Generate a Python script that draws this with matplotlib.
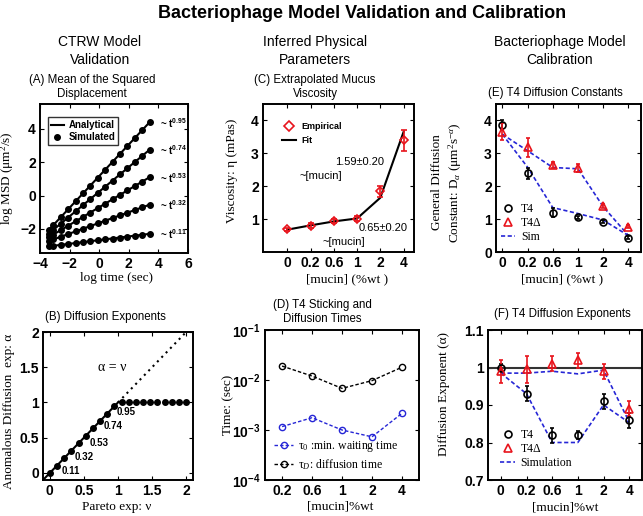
import matplotlib
matplotlib.use("Agg")
import matplotlib.pyplot as plt
from matplotlib import font_manager
from matplotlib.lines import Line2D

# ---------------- data ----------------
# Panel A
logt_sim = [-3.4, -3.1, -2.6, -2.1, -1.6, -1.1, -0.6, -0.1, 0.4, 0.9, 1.4, 1.9, 2.4, 2.9, 3.4]
msd_095 = [-2.06, -1.78, -1.30, -0.83, -0.35, 0.13, 0.60, 1.08, 1.55, 2.03, 2.50, 2.98, 3.45, 3.93, 4.40]
msd_074 = [-2.28, -2.06, -1.69, -1.32, -0.95, -0.58, -0.21, 0.16, 0.53, 0.90, 1.27, 1.64, 2.01, 2.38, 2.75]
msd_053 = [-2.50, -2.34, -2.08, -1.81, -1.55, -1.28, -1.02, -0.75, -0.49, -0.22, 0.04, 0.31, 0.57, 0.84, 1.10]
msd_032 = [-2.73, -2.63, -2.47, -2.31, -2.15, -1.99, -1.83, -1.67, -1.51, -1.35, -1.19, -1.03, -0.87, -0.71, -0.55]
msd_011 = [-3.05, -3.02, -2.96, -2.91, -2.85, -2.80, -2.74, -2.69, -2.63, -2.58, -2.52, -2.47, -2.41, -2.36, -2.30]
exponent_labels = ["0.95", "0.74", "0.53", "0.32", "0.11"]
analytic_t = [-3.4, 3.4]
analytic_095 = [-2.06, 4.40]
analytic_074 = [-2.28, 2.75]
analytic_053 = [-2.50, 1.10]
analytic_032 = [-2.73, -0.55]
analytic_011 = [-3.05, -2.30]

# Panel B
pareto_nu = [0.0, 0.105, 0.21, 0.316, 0.421, 0.526, 0.632, 0.737, 0.842, 0.947,
             1.053, 1.158, 1.263, 1.368, 1.474, 1.579, 1.684, 1.789, 1.895, 2.0]
anom_alpha = [0.0, 0.105, 0.21, 0.316, 0.421, 0.526, 0.632, 0.737, 0.842, 0.947,
              1.0, 1.0, 1.0, 1.0, 1.0, 1.0, 1.0, 1.0, 1.0, 1.0]
b_labels = ["0.11", "0.32", "0.53", "0.74", "0.95"]
b_label_x = [0.17, 0.37, 0.58, 0.79, 0.98]
b_label_y = [0.03, 0.23, 0.43, 0.66, 0.86]

# Panel C
mucin_c = ["0", "0.2", "0.6", "1", "2", "4"]
visc_emp = [0.69, 0.80, 0.93, 1.01, 1.84, 3.40]
visc_err = [0.05, 0.07, 0.06, 0.08, 0.16, 0.32]
visc_fit = [0.68, 0.81, 0.93, 1.02, 1.65, 3.65]

# Panel D
mucin_d = ["0.2", "0.6", "1", "2", "4"]
tau_0 = [0.00117, 0.00176, 0.00100, 0.00073, 0.00215]
tau_D = [0.019, 0.012, 0.0068, 0.0097, 0.018]

# Panel E
mucin_e = ["0", "0.2", "0.6", "1", "2", "4"]
D_T4 = [3.87, 2.39, 1.20, 1.05, 0.92, 0.44]
D_T4_err = [0.15, 0.17, 0.15, 0.05, 0.05, 0.04]
D_T4d = [3.66, 3.18, 2.65, 2.56, 1.40, 0.77]
D_T4d_err = [0.25, 0.28, 0.10, 0.13, 0.05, 0.04]
D_sim_T4 = [3.58, 2.58, 1.35, 1.17, 0.97, 0.50]
D_sim_T4d = [3.58, 3.08, 2.57, 2.53, 1.38, 0.50]

# Panel F
mucin_f = ["0", "0.2", "0.6", "1", "2", "4"]
a_T4 = [1.00, 0.93, 0.82, 0.82, 0.91, 0.86]
a_T4_err = [0.01, 0.02, 0.02, 0.01, 0.02, 0.02]
a_T4d = [0.99, 0.995, 1.01, 1.02, 0.99, 0.89]
a_T4d_err = [0.03, 0.035, 0.02, 0.02, 0.02, 0.02]
a_sim_T4 = [0.985, 0.93, 0.80, 0.80, 0.90, 0.853]
a_sim_T4d = [0.985, 0.985, 0.99, 0.983, 0.993, 0.855]

# ---------------- style ----------------
available = {f.name for f in font_manager.fontManager.ttflist}
NARROW = "Liberation Sans Narrow" if "Liberation Sans Narrow" in available else "Liberation Sans"
SANS = "Liberation Sans"
SERIF = "Liberation Serif"

plt.rcParams["mathtext.fontset"] = "custom"
plt.rcParams["mathtext.rm"] = SERIF
plt.rcParams["mathtext.it"] = SERIF + ":italic"
plt.rcParams["mathtext.bf"] = SANS + ":bold"
plt.rcParams["font.family"] = [SANS, "DejaVu Sans"]

W, H = 643, 516
fig = plt.figure(figsize=(W / 100, H / 100), dpi=100)

RED = "#e8141c"
BLUE = "#2626d6"

def px_axes(x0, y0, x1, y1):
    return fig.add_axes([x0 / W, 1 - y1 / H, (x1 - x0) / W, (y1 - y0) / H])

def style(ax):
    for s in ax.spines.values():
        s.set_linewidth(1.4)
    ax.tick_params(direction="in", length=3, width=0.8, top=True, right=True,
                   labelsize=10, pad=3)
    for lab in ax.get_xticklabels() + ax.get_yticklabels():
        lab.set_fontweight("bold")
        lab.set_family(SANS)

def ftext(x, y, s, **kw):
    fig.text(x / W, 1 - y / H, s, **kw)

LBL = dict(family=SERIF, fontsize=9.5)
TTL = dict(family=NARROW, fontsize=9.5 if NARROW != SANS else 8.3, ha="center", va="center")

# ---------------- headers ----------------
ftext(362, 14, "Bacteriophage Model Validation and Calibration", fontsize=13,
      fontweight="bold", family=SANS, ha="center", va="center")
COL = dict(family=NARROW, fontsize=11.5 if NARROW != SANS else 10, ha="center", va="center",
           linespacing=1.35)
ftext(100, 51, "CTRW Model\nValidation", **COL)
ftext(315, 51, "Inferred Physical\nParameters", **COL)
ftext(560, 51, "Bacteriophage Model\nCalibration", **COL)

# ---------------- Panel A ----------------
axA = px_axes(40, 104, 188, 253)
for yl, ys in zip([analytic_095, analytic_074, analytic_053, analytic_032, analytic_011],
                  [msd_095, msd_074, msd_053, msd_032, msd_011]):
    axA.plot(analytic_t, yl, color="black", lw=1.5)
    axA.plot(logt_sim, ys, "o", color="black", ms=4)
for lab, yl in zip(exponent_labels, [analytic_095, analytic_074, analytic_053, analytic_032, analytic_011]):
    axA.text(4.1, yl[-1] - 0.05, "~ t$^{\\mathbf{" + lab + "}}$", fontsize=7,
             fontweight="bold", va="center", ha="left")
axA.set_xlim(-4, 6)
axA.set_ylim(-3.45, 5.5)
axA.set_xticks([-4, -2, 0, 2, 4, 6])
axA.set_yticks([-2, 0, 2, 4])
axA.set_xticklabels(["\u22124", "\u22122", "0", "2", "4", "6"])
axA.set_yticklabels(["\u22122", "0", "2", "4"])
style(axA)
axA.set_xlabel("log time (sec)", **LBL)
axA.set_ylabel("log MSD (\u03bcm$^2$/s)", **LBL)
axA.xaxis.set_label_coords(0.52, -0.125)
axA.yaxis.set_label_coords(-0.16, 0.5)
legA = axA.legend(handles=[Line2D([], [], color="black", lw=1.5, label="Analytical"),
                           Line2D([], [], color="black", marker="o", ls="none", ms=4, label="Simulated")],
                  loc="upper left", bbox_to_anchor=(0.054, 0.91), borderaxespad=0,
                  prop=dict(family=SANS, weight="bold", size=7), fancybox=False,
                  edgecolor="black", handlelength=1.3, handletextpad=0.5,
                  borderpad=0.3, labelspacing=0.2)
legA.get_frame().set_linewidth(1.0)
ftext(92, 87, "(A) Mean of the Squared\nDisplacement", linespacing=1.2, **TTL)

# ---------------- Panel B ----------------
axB = px_axes(43, 332, 193, 480)
axB.plot([-0.1, 1.0], [-0.1, 1.0], color="black", lw=1.5)
axB.plot([1.0, 2.0], [1.0, 2.0], color="black", lw=1.5, ls=(0, (1, 2)))
axB.plot(pareto_nu, anom_alpha, "o", color="black", ms=4)
for lab, x, y in zip(b_labels, b_label_x, b_label_y):
    axB.text(x, y, lab, fontsize=7, fontweight="bold", va="center", ha="left")
axB.text(0.92, 1.5, "\u03b1 = \u03bd", family=SERIF, fontsize=10, ha="center", va="center")
axB.set_xlim(-0.1, 2.1)
axB.set_ylim(-0.1, 2.0)
axB.set_xticks([0, 0.5, 1, 1.5, 2])
axB.set_yticks([0, 0.5, 1, 1.5, 2])
axB.set_xticklabels(["0", "0.5", "1", "1.5", "2"])
axB.set_yticklabels(["0", "0.5", "1", "1.5", "2"])
style(axB)
axB.set_xlabel("Pareto exp: \u03bd", **LBL)
axB.set_ylabel("Anomalous Diffusion  exp: \u03b1", **LBL)
axB.xaxis.set_label_coords(0.49, -0.145)
axB.yaxis.set_label_coords(-0.185, 0.46)
ftext(105, 317, "(B) Diffusion Exponents", **TTL)

# ---------------- Panel C ----------------
axC = px_axes(263, 104, 414, 252)
xc = list(range(len(mucin_c)))
axC.plot(xc, visc_fit, color="black", lw=1.5)
axC.errorbar(xc, visc_emp, yerr=visc_err, fmt="D", mfc="none", mec=RED, ecolor=RED,
             ms=4.5, mew=1.2, capsize=2, elinewidth=1.2)
axC.set_xlim(-1.05, 5.45)
axC.set_ylim(0, 4.5)
axC.set_xticks(xc)
axC.set_xticklabels(mucin_c)
axC.set_yticks([1, 2, 3, 4])
axC.set_yticklabels(["1", "2", "3", "4"])
style(axC)
axC.text(3.1, 2.73, "1.59\u00b10.20", family=SANS, fontsize=8, ha="center", va="center")
axC.text(1.45, 2.3, "~[mucin]", family=SANS, fontsize=8, ha="center", va="center")
axC.text(4.1, 0.74, "0.65\u00b10.20", family=SANS, fontsize=8, ha="center", va="center")
axC.text(2.44, 0.3, "~[mucin]", family=SANS, fontsize=8, ha="center", va="center")
axC.set_xlabel("[mucin] (%wt )", **LBL)
axC.set_ylabel("Viscosity: \u03b7 (mPas)", **LBL)
axC.xaxis.set_label_coords(0.56, -0.145)
axC.yaxis.set_label_coords(-0.165, 0.55)
axC.legend(handles=[Line2D([], [], color=RED, marker="D", mfc="none", ls="none", ms=5, mew=1.2, label="Empirical"),
                    Line2D([], [], color="black", lw=1.5, label="Fit")],
           loc="upper left", bbox_to_anchor=(0.1, 0.9), borderaxespad=0, frameon=False,
           prop=dict(family=SANS, weight="bold", size=6.5), handlelength=1.6,
           handletextpad=0.6, labelspacing=0.5)
ftext(315, 87, "(C) Extrapolated Mucus\nViscosity", linespacing=1.2, **TTL)

# ---------------- Panel D ----------------
axD = px_axes(265, 330, 419, 480)
xd = list(range(len(mucin_d)))
axD.plot(xd, tau_0, ls=(0, (2.5, 1.5)), color=BLUE, marker="o", mfc="none", ms=4.5, mew=1.0, lw=1.0)
axD.plot(xd, tau_D, ls=(0, (2.5, 1.5)), color="black", marker="o", mfc="none", ms=4.5, mew=1.0, lw=1.0)
axD.set_yscale("log")
axD.set_ylim(1e-4, 1e-1)
axD.set_xlim(-0.57, 4.57)
axD.set_xticks(xd)
axD.set_xticklabels(mucin_d)
axD.set_yticks([1e-4, 1e-3, 1e-2, 1e-1])
axD.set_yticklabels(["$\\mathbf{10^{-4}}$", "$\\mathbf{10^{-3}}$", "$\\mathbf{10^{-2}}$", "$\\mathbf{10^{-1}}$"])
axD.minorticks_off()
style(axD)
axD.set_xlabel("[mucin]%wt", **LBL)
axD.set_ylabel("Time: (sec)", **LBL)
axD.xaxis.set_label_coords(0.49, -0.135)
axD.yaxis.set_label_coords(-0.2, 0.5)
axD.legend(handles=[Line2D([], [], color=BLUE, ls=(0, (2.5, 1.5)), marker="o", mfc="none", ms=4.5, lw=1.0,
                           label="\u03c4$_0$ :min. waiting time"),
                    Line2D([], [], color="black", ls=(0, (2.5, 1.5)), marker="o", mfc="none", ms=4.5, lw=1.0,
                           label="\u03c4$_D$: diffusion time")],
           loc="lower left", bbox_to_anchor=(0.03, 0.02), borderaxespad=0, frameon=False,
           prop=dict(family=SERIF, size=8.5), handlelength=1.6, handletextpad=0.4,
           labelspacing=0.3)
ftext(322, 312, "(D) T4 Sticking and\nDiffusion Times", linespacing=1.2, **TTL)

# ---------------- Panel E ----------------
axE = px_axes(496, 104, 641, 252)
xe = list(range(len(mucin_e)))
axE.plot(xe, D_sim_T4, ls=(0, (2.5, 1.5)), color=BLUE, lw=1.2)
axE.plot(xe, D_sim_T4d, ls=(0, (2.5, 1.5)), color=BLUE, lw=1.2)
axE.errorbar(xe, D_T4, yerr=D_T4_err, fmt="o", mfc="none", mec="black", ecolor="black",
             ms=5, mew=1.2, capsize=1.5, elinewidth=1.2)
axE.errorbar(xe, D_T4d, yerr=D_T4d_err, fmt="^", mfc="none", mec=RED, ecolor=RED,
             ms=5.5, mew=1.2, capsize=1.5, elinewidth=1.2)
axE.set_xlim(-0.25, 5.5)
axE.set_ylim(0, 4.5)
axE.set_xticks(xe)
axE.set_xticklabels(mucin_e)
axE.set_yticks([0, 1, 2, 3, 4])
axE.set_yticklabels(["0", "1", "2", "3", "4"])
style(axE)
axE.set_xlabel("[mucin] (%wt )", **LBL)
axE.set_ylabel("General Diffusion\nConstant: D$_\\alpha$ (\u03bcm$^2$s$^{-\\alpha}$)", linespacing=1.3, **LBL)
axE.xaxis.set_label_coords(0.455, -0.145)
axE.yaxis.set_label_coords(-0.22, 0.47)
axE.legend(handles=[Line2D([], [], color="black", marker="o", mfc="none", ls="none", ms=5, mew=1.2, label="T4"),
                    Line2D([], [], color=RED, marker="^", mfc="none", ls="none", ms=5.5, mew=1.2, label="T4\u0394"),
                    Line2D([], [], color=BLUE, ls=(0, (2.5, 1.5)), lw=1.2, label="Sim")],
           loc="upper left", bbox_to_anchor=(0.0, 0.36), borderaxespad=0, frameon=False,
           prop=dict(family=SERIF, size=8.5), handlelength=1.2, handletextpad=0.5,
           labelspacing=0.15)
ftext(555, 93, "(E) T4 Diffusion Constants", **TTL)

# ---------------- Panel F ----------------
axF = px_axes(488, 330, 642, 480)
xf = list(range(len(mucin_f)))
axF.axhline(1.0, color="#333333", lw=1.5)
axF.plot(xf, a_sim_T4, ls=(0, (2.5, 1.5)), color=BLUE, lw=1.2)
axF.plot(xf, a_sim_T4d, ls=(0, (2.5, 1.5)), color=BLUE, lw=1.2)
axF.errorbar(xf, a_T4, yerr=a_T4_err, fmt="o", mfc="none", mec="black", ecolor="black",
             ms=5, mew=1.2, capsize=1.5, elinewidth=1.2)
axF.errorbar(xf, a_T4d, yerr=a_T4d_err, fmt="^", mfc="none", mec=RED, ecolor=RED,
             ms=5.5, mew=1.2, capsize=1.5, elinewidth=1.2)
axF.set_xlim(-0.5, 5.5)
axF.set_ylim(0.7, 1.1)
axF.set_xticks(xf)
axF.set_xticklabels(mucin_f)
axF.set_yticks([0.7, 0.8, 0.9, 1.0, 1.1])
axF.set_yticklabels(["0.7", "0.8", "0.9", "1", "1.1"])
style(axF)
axF.set_xlabel("[mucin]%wt", **LBL)
axF.set_ylabel("Diffusion Exponent (\u03b1)", **LBL)
axF.xaxis.set_label_coords(0.5, -0.145)
axF.yaxis.set_label_coords(-0.245, 0.57)
axF.legend(handles=[Line2D([], [], color="black", marker="o", mfc="none", ls="none", ms=5, mew=1.2, label="T4"),
                    Line2D([], [], color=RED, marker="^", mfc="none", ls="none", ms=5.5, mew=1.2, label="T4\u0394"),
                    Line2D([], [], color=BLUE, ls=(0, (2.5, 1.5)), lw=1.2, label="Simulation")],
           loc="upper left", bbox_to_anchor=(0.05, 0.37), borderaxespad=0, frameon=False,
           prop=dict(family=SERIF, size=8.5), handlelength=1.2, handletextpad=0.5,
           labelspacing=0.15)
ftext(562, 314, "(F) T4 Diffusion Exponents", **TTL)

fig.savefig("out.png", dpi=100)
